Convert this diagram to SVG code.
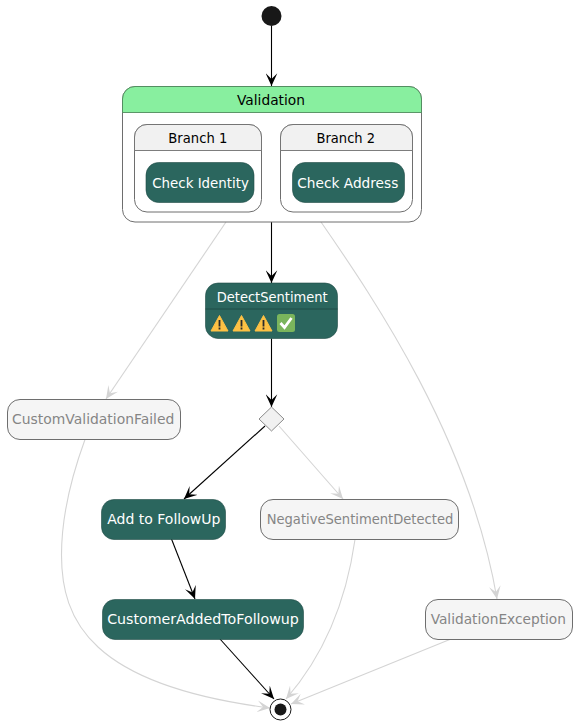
<svg xmlns="http://www.w3.org/2000/svg" width="577" height="724" viewBox="0 0 577 724">
<style>
text{font-family:"DejaVu Sans",Verdana,sans-serif;font-size:14.800px;text-anchor:middle}
.cont{fill:#fff;stroke:#6e6e6e;stroke-width:1}
.dark{fill:#2b665e;stroke:#1f4a45;stroke-width:.6}
.dark text,text.w{fill:#fff}
.grey{fill:#f5f5f5;stroke:#6e6e6e;stroke-width:1}
.gt{fill:#858585}
.k{fill:none;stroke:#000;stroke-width:1.100}
.l{fill:none;stroke:#d4d4d4;stroke-width:1.100}
.ah{fill:#000}
.ahl{fill:#d4d4d4}
</style>
<defs>
<marker id="mk" markerUnits="userSpaceOnUse" markerWidth="14" markerHeight="12" refX="11" refY="5" orient="auto" viewBox="0 0 12 10"><path d="M0 0L11 5L0 10L5 5Z" class="ah"/></marker>
<marker id="ml" markerUnits="userSpaceOnUse" markerWidth="14" markerHeight="12" refX="11" refY="5" orient="auto" viewBox="0 0 12 10"><path d="M0 0L11 5L0 10L5 5Z" class="ahl"/></marker>
<g id="warn"><path d="M8.500 0.500L17 16H0Z" fill="#fdc144" stroke="#fdc144" stroke-width="1" stroke-linejoin="round"/><rect x="7.600" y="5" width="1.800" height="6.500" fill="#2b2b2b"/><rect x="7.600" y="12.500" width="1.800" height="2" fill="#2b2b2b"/></g>
</defs>
<g id="connectors">
<path class="k" marker-end="url(#mk)" d="M271.500 26V86"/>
<path class="k" marker-end="url(#mk)" d="M271.500 222V283"/>
<path class="k" marker-end="url(#mk)" d="M271.500 338.500V407"/>
<path class="k" marker-end="url(#mk)" d="M265 426L184 499"/>
<path class="k" marker-end="url(#mk)" d="M171.500 539L195 599"/>
<path class="k" marker-end="url(#mk)" d="M220 639L274 699"/>
<path class="l" marker-end="url(#ml)" d="M226 222L106 399"/>
<path class="l" marker-end="url(#ml)" d="M321 222C375 300 470 440 497 599"/>
<path class="l" marker-end="url(#ml)" d="M279 426L343 499"/>
<path class="l" marker-end="url(#ml)" d="M85 439.500C72 475 61.500 515 61.500 555C61.500 620 90 685 270 708"/>
<path class="l" marker-end="url(#ml)" d="M355 539.500C345 610 320 660 286 699"/>
<path class="l" marker-end="url(#ml)" d="M451 639L291 704"/>
</g>
<g id="start"><circle cx="271.500" cy="16" r="10" fill="#181818"/></g>
<g id="validation">
<rect class="cont" x="122.500" y="86.500" width="299" height="135.500" rx="12.500"/>
<path d="M122.500 112.500V99A12.500 12.500 0 0 1 135 86.500H409A12.500 12.500 0 0 1 421.500 99V112.500Z" fill="#88ef9f" stroke="#4f8a5c" stroke-width=".9"/>
<text x="271" y="105" textLength="68" lengthAdjust="spacingAndGlyphs">Validation</text>
</g>
<g id="branch1">
<rect class="cont" x="134.500" y="124.500" width="127" height="87.500" rx="12.500"/>
<path d="M134.500 150.500V137A12.500 12.500 0 0 1 147 124.500H249A12.500 12.500 0 0 1 261.500 137V150.500Z" fill="#f1f1f1" stroke="#6e6e6e" stroke-width=".9"/>
<text x="197.800" y="143" textLength="59" lengthAdjust="spacingAndGlyphs">Branch 1</text>
</g>
<g id="branch2">
<rect class="cont" x="280.500" y="124.500" width="132" height="87.500" rx="12.500"/>
<path d="M280.500 150.500V137A12.500 12.500 0 0 1 293 124.500H400A12.500 12.500 0 0 1 412.500 137V150.500Z" fill="#f1f1f1" stroke="#6e6e6e" stroke-width=".9"/>
<text x="345.800" y="143" textLength="58.500" lengthAdjust="spacingAndGlyphs">Branch 2</text>
</g>
<g id="check-identity" class="dark"><rect x="146" y="162.500" width="108" height="40" rx="12.500"/><text class="w" x="200.600" y="188" stroke="none" textLength="96.700" lengthAdjust="spacingAndGlyphs">Check Identity</text></g>
<g id="check-address" class="dark"><rect x="292.500" y="162.500" width="112" height="40" rx="12.500"/><text class="w" x="347.800" y="188" stroke="none" textLength="101" lengthAdjust="spacingAndGlyphs">Check Address</text></g>
<g id="detect-sentiment">
<rect class="dark" x="205.500" y="283" width="132" height="55.500" rx="12.500"/>
<line x1="205.500" y1="309" x2="337.500" y2="309" stroke="#1f4a45" stroke-width=".9"/>
<text class="w" x="272.200" y="302" textLength="111" lengthAdjust="spacingAndGlyphs">DetectSentiment</text>
<use href="#warn" x="211" y="315"/><use href="#warn" x="233" y="315"/><use href="#warn" x="255" y="315"/>
<rect x="277" y="314" width="18" height="18" rx="2.500" fill="#7ab55c"/>
<path d="M280.500 323L284.500 327.500L291.500 318" fill="none" stroke="#fff" stroke-width="2.800"/>
</g>
<g id="decision"><path d="M271.500 407L284 419L271.500 431L259 419Z" fill="#f1f1f1" stroke="#6e6e6e" stroke-width=".8"/></g>
<g id="custom-validation-failed"><rect class="grey" x="7.500" y="399.500" width="173" height="40" rx="12.500"/><text class="gt" x="93.200" y="424" textLength="162.300" lengthAdjust="spacingAndGlyphs">CustomValidationFailed</text></g>
<g id="add-to-followup" class="dark"><rect x="101.500" y="499.500" width="124" height="40" rx="12.500"/><text class="w" x="163.800" y="524" stroke="none" textLength="113" lengthAdjust="spacingAndGlyphs">Add to FollowUp</text></g>
<g id="negative-sentiment"><rect class="grey" x="260.500" y="499.500" width="198" height="40" rx="12.500"/><text class="gt" x="360" y="524" textLength="186.600" lengthAdjust="spacingAndGlyphs">NegativeSentimentDetected</text></g>
<g id="customer-added" class="dark"><rect x="102.500" y="599.500" width="201" height="40" rx="12.500"/><text class="w" x="203" y="624" stroke="none" textLength="191.700" lengthAdjust="spacingAndGlyphs">CustomerAddedToFollowup</text></g>
<g id="validation-exception"><rect class="grey" x="425.500" y="599.500" width="147" height="40" rx="12.500"/><text class="gt" x="498.300" y="624" textLength="135.300" lengthAdjust="spacingAndGlyphs">ValidationException</text></g>
<g id="end"><circle cx="280.500" cy="709.500" r="10.500" fill="#fff" stroke="#181818" stroke-width="1"/><circle cx="280.500" cy="709.500" r="6" fill="#181818"/></g>
</svg>
